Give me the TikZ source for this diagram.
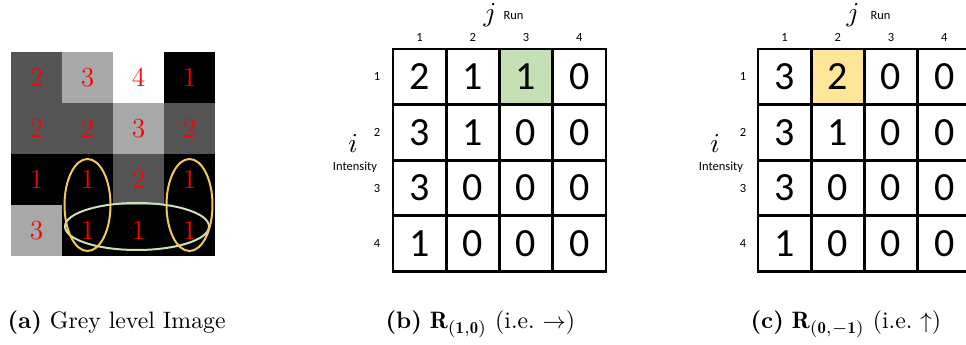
\documentclass[tikz,border=0pt]{standalone}
\usepackage{fontspec}
\newfontfamily\carlito{Carlito}
\usetikzlibrary{calc}
\definecolor{grey1}{gray}{0}
\definecolor{grey2}{gray}{0.33}
\definecolor{grey3}{gray}{0.66}
\definecolor{grey4}{gray}{1}
\definecolor{ringgold}{HTML}{F2C75C}
\definecolor{ringgreen}{HTML}{C9E2B8}
\definecolor{hitgreen}{HTML}{C5E0B4}
\definecolor{hitgold}{HTML}{FFE699}
\tikzset{
  pix/.style={minimum size=20.4pt,inner sep=0pt,text=red,font=\fontsize{11}{11}\selectfont},
  cell/.style={draw,line width=1.1pt,minimum width=21.3pt,minimum height=22.2pt,inner sep=0pt,font=\carlito\fontsize{16}{16}\selectfont},
  idx/.style={inner sep=0pt,font=\carlito\fontsize{5}{6}\selectfont},
  axis/.style={inner sep=0pt,font=\fontsize{10.5}{10.5}\selectfont},
  ring/.style={line width=0.8pt},
  caption/.style={anchor=base west,inner sep=0pt,font=\fontsize{9.5}{11}\selectfont},
  hlb13/.style={fill=hitgreen},
  hlc12/.style={fill=hitgold},
}

\begin{document}
\begin{tikzpicture}[x=0.4pt,y=-0.4pt]
\useasboundingbox (0,0) rectangle (966,345);
\clip (0,0) rectangle (966,345);
\foreach \r/\row in {1/{2,3,4,1},2/{2,2,3,2},3/{1,1,2,1},4/{3,1,1,1}}
  \foreach \v [count=\c] in \row
    \node[pix,fill=grey\v] (p\r\c) at ({36.5+51*(\c-1)},{77.5+51*(\r-1)}) {\v};
\draw[ring,ringgreen] ($(p43)+(-1.5,-4)$) ellipse [x radius=28.8pt,y radius=9.4pt];
\draw[ring,ringgold] ($(p32)!.5!(p42)$) ellipse [x radius=9.2pt,y radius=18.4pt];
\draw[ring,ringgold] ($(p34)!.5!(p44)$) ellipse [x radius=9.2pt,y radius=18.4pt];

\foreach \r/\row in {1/{2,1,1,0},2/{3,1,0,0},3/{3,0,0,0},4/{1,0,0,0}}
  \foreach \v [count=\c] in \row
    \node[cell,hlb\r\c/.try] (b\r\c) at ({419.6+53.25*(\c-1)},{76.8+55.6*(\r-1)}) {\v};
\foreach \c in {1,...,4}
  \node[idx] (bcol\c) at ({419.6+53.25*(\c-1)},37) {\c};
\foreach \r in {1,...,4}
  \node[idx] (brow\r) at (377,{76.8+55.6*(\r-1)}) {\r};
\node[axis] (bj) at (490,15) {$j$};
\node[idx,anchor=west] (brun) at (503,16) {Run};
\node[axis] (bi) at (353,143) {$i$};
\node[idx] (bint) at (355,167) {Intensity};

\foreach \r/\row in {1/{3,2,0,0},2/{3,1,0,0},3/{3,0,0,0},4/{1,0,0,0}}
  \foreach \v [count=\c] in \row
    \node[cell,hlc\r\c/.try] (c\r\c) at ({784.6+53.25*(\c-1)},{76.8+55.6*(\r-1)}) {\v};
\foreach \c in {1,...,4}
  \node[idx] (ccol\c) at ({784.6+53.25*(\c-1)},37) {\c};
\foreach \r in {1,...,4}
  \node[idx] (crow\r) at (743,{76.8+55.6*(\r-1)}) {\r};
\node[axis] (cj) at (853,15) {$j$};
\node[idx,anchor=west] (crun) at (870,16) {Run};
\node[axis] (ci) at (715,143) {$i$};
\node[idx] (cint) at (721,167) {Intensity};

\node[caption] (capa) at (7,328) {\textbf{(a)} Grey level Image};
\node[caption] (capb) at (385,328) {\textbf{(b)} $\mathbf{R}_{(\mathbf{1},\mathbf{0})}$ (i.e.\ $\rightarrow$)};
\node[caption] (capc) at (750,328) {\textbf{(c)} $\mathbf{R}_{(\mathbf{0},-\mathbf{1})}$ (i.e.\ $\uparrow$)};
\end{tikzpicture}
\end{document}
